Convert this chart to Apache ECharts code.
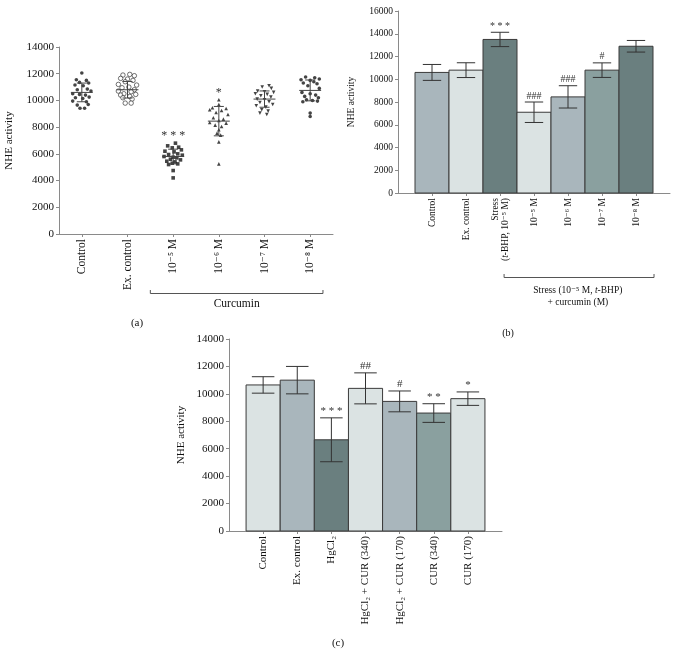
<!DOCTYPE html>
<html><head><meta charset="utf-8">
<script src="https://cdn.jsdelivr.net/npm/echarts@6/dist/echarts.min.js"></script>
<style>html,body{margin:0;padding:0;background:#fff}#c{width:679px;height:655px}</style>
</head><body><div id="c"></div>
<script>
// ---------- Panel (a): dot plot ----------
const catsA = ['Control', 'Ex. control', '10⁻⁵ M', '10⁻⁶ M', '10⁻⁷ M', '10⁻⁸ M'];
// points: [horizontal jitter (category units), NHE activity]
const ptsControl = [[0,12050],[-0.12,11550],[0.1,11500],[-0.05,11350],[0.15,11300],[-0.15,11150],[0.03,11100],[-0.1,10800],[0.12,10850],[0.2,10700],[-0.2,10500],[-0.05,10450],[0.08,10400],[0.16,10250],[-0.14,10200],[0.02,10150],[-0.2,9950],[0.1,9900],[-0.1,9650],[0.14,9700],[-0.04,9420],[0.06,9420]];
const ptsExControl = [[-0.1,11900],[0.05,11950],[0.15,11850],[-0.15,11650],[0,11600],[0.12,11500],[-0.05,11400],[-0.2,11200],[0.2,11150],[0.03,11000],[-0.12,10950],[0.15,10800],[-0.2,10700],[0.08,10650],[-0.08,10500],[0.18,10450],[-0.15,10400],[0.05,10300],[-0.1,10200],[0.1,10100],[-0.05,9800],[0.08,9800]];
const ptsCur5 = [[0.05,6800],[-0.12,6600],[0.12,6500],[-0.02,6450],[0.18,6300],[-0.18,6200],[0.02,6150],[0.1,6000],[-0.1,5950],[0.2,5900],[-0.2,5800],[0,5750],[0.08,5700],[-0.06,5600],[0.16,5550],[-0.14,5450],[0.04,5400],[-0.02,5300],[0.1,5250],[-0.1,5200],[0,4750],[0,4200]];
const ptsCur6 = [[0,10050],[0,9700],[-0.14,9450],[0.16,9400],[-0.2,9300],[0.06,9250],[-0.06,9100],[0.2,8950],[-0.12,8700],[0.1,8600],[0,8500],[-0.2,8350],[0.16,8300],[-0.08,8150],[0.06,8050],[0,7800],[-0.04,7550],[0.04,7400],[0,6900],[0,5250]];
const ptsCur7 = [[0.1,11100],[-0.05,11000],[0.15,10900],[-0.15,10700],[0,10650],[0.2,10600],[-0.2,10500],[0.06,10450],[-0.08,10350],[0.14,10250],[-0.16,10100],[0,10050],[0.1,9900],[-0.1,9850],[0.18,9700],[-0.18,9600],[0.03,9500],[-0.06,9300],[0.08,9200],[-0.1,9050],[0.05,8950]];
const ptsCur8 = [[-0.1,11750],[0.1,11700],[0.2,11600],[-0.2,11550],[0,11500],[0.08,11400],[-0.15,11300],[0.15,11250],[-0.05,11100],[0.2,10900],[-0.18,10600],[0,10500],[0.12,10400],[-0.12,10300],[0.18,10200],[-0.08,10050],[0.05,10000],[0.16,9950],[-0.16,9900],[0,9050],[0,8800]];
const meansA = [10600, 10800, 5800, 8450, 10100, 10750];
const sdA = [700, 620, 550, 1100, 610, 780];
const sigA = ['', '', '* * *', '*', '', ''];

// ---------- Panel (b): bars ----------
const catsB = ['Control', 'Ex. control', 'Stress\n({i|t}-BHP, 10⁻⁵ M)', '10⁻⁵ M', '10⁻⁶ M', '10⁻⁷ M', '10⁻⁸ M'];
const valuesB = [10600, 10800, 13500, 7100, 8450, 10800, 12900];
const errB = [700, 650, 630, 900, 980, 640, 510];
const sigB = ['', '', '* * *', '###', '###', '#', ''];

// ---------- Panel (c): bars ----------
const catsC = ['Control', 'Ex. control', 'HgCl₂', 'HgCl₂ + CUR (340)', 'HgCl₂ + CUR (170)', 'CUR (340)', 'CUR (170)'];
const valuesC = [10650, 11000, 6650, 10400, 9450, 8600, 9650];
const errC = [600, 1000, 1600, 1130, 760, 680, 490];
const sigC = ['', '', '* * *', '##', '#', '* *', '*'];

const yTicksA = {min: 0, max: 14000, interval: 2000};
const yTicksB = {min: 0, max: 16000, interval: 2000};
const yTicksC = {min: 0, max: 14000, interval: 2000};

// styles
const FONT = '"Liberation Serif", "DejaVu Serif", serif';
const C_LIGHT = '#dbe3e3', C_MID = '#a9b6bc', C_TEAL = '#8aa09f', C_DARK = '#6a7f7f';
const colorsB = [C_MID, C_LIGHT, C_DARK, C_LIGHT, C_MID, C_TEAL, C_DARK];
const colorsC = [C_LIGHT, C_MID, C_DARK, C_LIGHT, C_MID, C_TEAL, C_LIGHT];
const AXIS = '#8a8a8a';

const chart = echarts.init(document.getElementById('c'), null, {renderer: 'canvas'});

function xAxisCfg(gi, n, cats, fs, min, max) {
  const idx = Array.from({length: n}, (_, i) => i);
  return {
    gridIndex: gi, type: 'value', min: min, max: max,
    axisLine: {show: true, onZero: false, lineStyle: {color: AXIS, width: 1}},
    axisTick: {show: true, length: 3, customValues: idx, lineStyle: {color: AXIS}},
    splitLine: {show: false},
    axisLabel: {
      customValues: idx, rotate: 90, margin: 5, color: '#111', fontFamily: FONT, fontSize: fs,
      formatter: v => cats[Math.round(v)],
      rich: {i: {fontStyle: 'italic', fontFamily: FONT, fontSize: fs, color: '#111'}}
    }
  };
}
function yAxisCfg(gi, t, fs, gap) {
  return {
    gridIndex: gi, type: 'value', min: t.min, max: t.max, interval: t.interval,
    name: 'NHE activity', nameLocation: 'middle', nameGap: gap, nameRotate: 90,
    nameTextStyle: {fontFamily: FONT, fontSize: fs, color: '#111'},
    axisLine: {show: true, onZero: false, lineStyle: {color: AXIS, width: 1}},
    axisTick: {show: true, length: 3, lineStyle: {color: AXIS}},
    splitLine: {show: false},
    axisLabel: {color: '#111', fontFamily: FONT, fontSize: fs, margin: 5, formatter: v => String(v)}
  };
}

function scatterSeries(gi, pts, symbol, rot, empty) {
  return {
    type: 'scatter', xAxisIndex: 0, yAxisIndex: 0,
    data: pts.map(p => [gi + p[0], p[1]]),
    symbol: symbol, symbolRotate: rot || 0, symbolSize: empty ? 4.5 : 3.6,
    itemStyle: empty ? {color: '#fff', borderColor: '#222', borderWidth: 0.8} : {color: '#151515'},
    z: 3, silent: true
  };
}
const groupsA = [ptsControl, ptsExControl, ptsCur5, ptsCur6, ptsCur7, ptsCur8];

function meanRender(params, api) {
  const i = params.dataIndex;
  const x = api.value(0), m = api.value(1), s = api.value(2), top = api.value(3);
  const c = api.coord([x, m]);
  const hw = api.size([0.24, 0])[0];
  const cw = api.size([0.11, 0])[0];
  const pu = api.coord([x, m + s]), pd = api.coord([x, m - s]);
  const pt = api.coord([x, top]);
  const ls = {stroke: '#444', lineWidth: 1};
  const ch = [
    {type: 'line', shape: {x1: c[0] - hw, y1: c[1], x2: c[0] + hw, y2: c[1]}, style: ls},
    {type: 'line', shape: {x1: c[0], y1: pu[1], x2: c[0], y2: pd[1]}, style: ls},
    {type: 'line', shape: {x1: c[0] - cw, y1: pu[1], x2: c[0] + cw, y2: pu[1]}, style: ls},
    {type: 'line', shape: {x1: c[0] - cw, y1: pd[1], x2: c[0] + cw, y2: pd[1]}, style: ls}
  ];
  if (sigA[i]) ch.push({type: 'text', style: {text: sigA[i], x: c[0], y: pt[1] - 1, textAlign: 'center', textVerticalAlign: 'bottom', font: '12px ' + FONT, fill: '#333'}});
  return {type: 'group', children: ch};
}

function barRender(colors, sig, capFrac, fs) {
  return function (params, api) {
    const i = params.dataIndex;
    const x = api.value(0), y = api.value(1), e = api.value(2);
    const tl = api.coord([x - 0.5, y]), br = api.coord([x + 0.5, 0]);
    const top = api.coord([x, y + e]), bot = api.coord([x, y - e]);
    const cw = api.size([capFrac, 0])[0];
    const ls = {stroke: '#333', lineWidth: 1};
    const ch = [
      {type: 'rect', shape: {x: tl[0], y: tl[1], width: br[0] - tl[0], height: br[1] - tl[1]}, style: {fill: colors[i], stroke: '#3a3a3a', lineWidth: 1}},
      {type: 'line', shape: {x1: top[0], y1: top[1], x2: top[0], y2: bot[1]}, style: ls},
      {type: 'line', shape: {x1: top[0] - cw, y1: top[1], x2: top[0] + cw, y2: top[1]}, style: ls},
      {type: 'line', shape: {x1: top[0] - cw, y1: bot[1], x2: top[0] + cw, y2: bot[1]}, style: ls}
    ];
    if (sig[i]) ch.push({type: 'text', style: {text: sig[i], x: top[0], y: top[1] - 1, textAlign: 'center', textVerticalAlign: 'bottom', font: fs + 'px ' + FONT, fill: '#333'}});
    return {type: 'group', children: ch};
  };
}

const series = [];
const syms = [['circle', 0, false], ['circle', 0, true], ['rect', 0, false], ['triangle', 0, false], ['triangle', 180, false], ['circle', 0, false]];
groupsA.forEach((g, i) => series.push(scatterSeries(i, g, syms[i][0], syms[i][1], syms[i][2])));
series.push({
  type: 'custom', xAxisIndex: 0, yAxisIndex: 0, renderItem: meanRender, z: 4, silent: true,
  data: meansA.map((m, i) => [i, m, sdA[i], Math.max(...groupsA[i].map(p => p[1]))])
});
series.push({
  type: 'custom', xAxisIndex: 1, yAxisIndex: 1, renderItem: barRender(colorsB, sigB, 0.27, 10), silent: true,
  data: valuesB.map((v, i) => [i, v, errB[i]])
});
series.push({
  type: 'custom', xAxisIndex: 2, yAxisIndex: 2, renderItem: barRender(colorsC, sigC, 0.33, 11), silent: true,
  data: valuesC.map((v, i) => [i, v, errC[i]])
});

chart.setOption({
  animation: false,
  backgroundColor: '#fff',
  grid: [
    {left: 59, top: 47, width: 274, height: 187},
    {left: 398, top: 11, width: 272, height: 182},
    {left: 229, top: 339, width: 273, height: 192}
  ],
  xAxis: [
    xAxisCfg(0, 6, catsA, 11.5, -0.5, 5.5),
    xAxisCfg(1, 7, catsB, 9.5, -1, 7),
    xAxisCfg(2, 7, catsC, 11, -1, 7)
  ],
  yAxis: [
    yAxisCfg(0, yTicksA, 11, 44),
    yAxisCfg(1, yTicksB, 9.5, 42),
    yAxisCfg(2, yTicksC, 11, 42)
  ],
  series: series
});

// brackets and panel letters
const px = (gi, x) => chart.convertToPixel({xAxisIndex: gi}, x);
const ax0 = px(0, 1.5), ax1 = px(0, 5.28), axm = px(0, 3.39);
const bx0 = px(1, 2.12), bx1 = px(1, 6.53), bxm = px(1, 4.29);
const lsB = {stroke: '#555', lineWidth: 1, fill: null};
const txt = (t, x, y, fs) => ({type: 'text', x: x, y: y, style: {text: t, align: 'center', verticalAlign: 'middle', fontFamily: FONT, fontSize: fs, fill: '#111'}});
chart.setOption({
  graphic: [
    {type: 'polyline', shape: {points: [[ax0, 290], [ax0, 293.5], [ax1, 293.5], [ax1, 290]]}, style: lsB},
    txt('Curcumin', axm, 304, 11.5),
    txt('(a)', 137, 323, 11),
    {type: 'polyline', shape: {points: [[bx0, 274], [bx0, 277.5], [bx1, 277.5], [bx1, 274]]}, style: lsB},
    {type: 'text', x: bxm, y: 290, style: {text: 'Stress (10⁻⁵ M, {i|t}-BHP)', align: 'center', verticalAlign: 'middle', fontFamily: FONT, fontSize: 9.5, fill: '#111', rich: {i: {fontStyle: 'italic', fontFamily: FONT, fontSize: 9.5, fill: '#111'}}}},
    txt('+ curcumin (M)', bxm, 302, 9.5),
    txt('(b)', 508, 333, 10),
    txt('(c)', 338, 643, 11)
  ]
});
</script>
</body></html>
